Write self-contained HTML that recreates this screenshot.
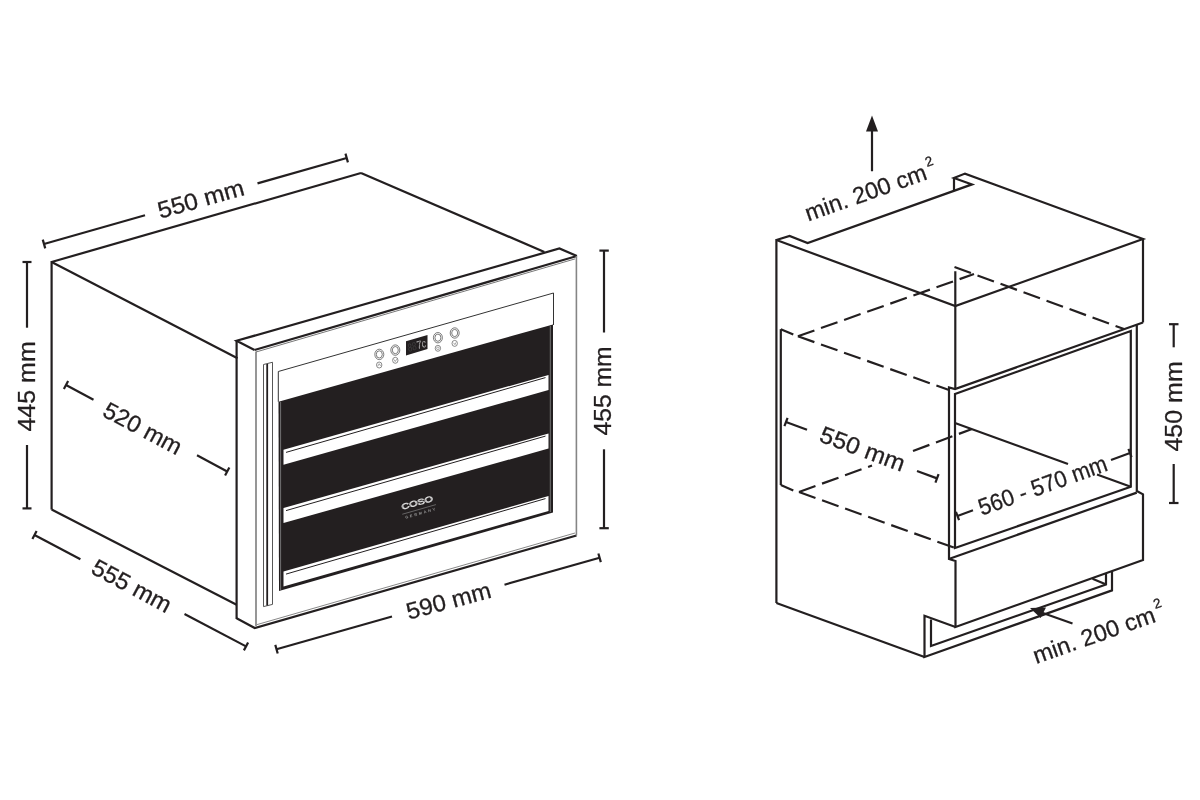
<!DOCTYPE html>
<html><head><meta charset="utf-8"><style>
html,body{margin:0;padding:0;background:#fff;width:1200px;height:800px;overflow:hidden}
svg{display:block;will-change:transform}
text{font-family:"Liberation Sans",sans-serif;fill:#231f20;stroke:#231f20;stroke-width:0.3px}
</style></head><body>
<svg width="1200" height="800" viewBox="0 0 1200 800">
<rect width="1200" height="800" fill="#fff"/>
<line x1="45.23" y1="248.33" x2="42.77" y2="239.67" stroke="#231f20" stroke-width="2.2" />
<line x1="347.93" y1="162.33" x2="345.47" y2="153.67" stroke="#231f20" stroke-width="2.2" />
<line x1="44.0" y1="244.0" x2="145.0" y2="215.3" stroke="#231f20" stroke-width="2.2" />
<line x1="257.5" y1="183.34" x2="346.7" y2="158.0" stroke="#231f20" stroke-width="2.2" />
<line x1="22.5" y1="262" x2="31.5" y2="262" stroke="#231f20" stroke-width="2.2" />
<line x1="22.5" y1="508.4" x2="31.5" y2="508.4" stroke="#231f20" stroke-width="2.2" />
<line x1="27" y1="262" x2="27" y2="327.7" stroke="#231f20" stroke-width="2.2" />
<line x1="27" y1="445" x2="27" y2="508.4" stroke="#231f20" stroke-width="2.2" />
<line x1="63.87" y1="388.97" x2="68.13" y2="381.03" stroke="#231f20" stroke-width="2.2" />
<line x1="225.07" y1="475.47" x2="229.33" y2="467.53" stroke="#231f20" stroke-width="2.2" />
<line x1="66.0" y1="385.0" x2="93.5" y2="399.76" stroke="#231f20" stroke-width="2.2" />
<line x1="197.0" y1="455.29" x2="227.2" y2="471.5" stroke="#231f20" stroke-width="2.2" />
<line x1="32.4" y1="538.98" x2="36.6" y2="531.02" stroke="#231f20" stroke-width="2.2" />
<line x1="243.9" y1="650.38" x2="248.1" y2="642.42" stroke="#231f20" stroke-width="2.2" />
<line x1="34.5" y1="535.0" x2="80.4" y2="559.18" stroke="#231f20" stroke-width="2.2" />
<line x1="184.5" y1="614.01" x2="246.0" y2="646.4" stroke="#231f20" stroke-width="2.2" />
<line x1="277.72" y1="653.53" x2="275.28" y2="644.87" stroke="#231f20" stroke-width="2.2" />
<line x1="600.82" y1="562.13" x2="598.38" y2="553.47" stroke="#231f20" stroke-width="2.2" />
<line x1="276.5" y1="649.2" x2="392.0" y2="616.53" stroke="#231f20" stroke-width="2.2" />
<line x1="504.5" y1="584.7" x2="599.6" y2="557.8" stroke="#231f20" stroke-width="2.2" />
<line x1="599.4" y1="250.6" x2="608.8" y2="250.6" stroke="#231f20" stroke-width="2.2" />
<line x1="599.4" y1="528.2" x2="608.8" y2="528.2" stroke="#231f20" stroke-width="2.2" />
<line x1="604" y1="250.6" x2="604" y2="332.5" stroke="#231f20" stroke-width="2.2" />
<line x1="604" y1="449.3" x2="604" y2="528.2" stroke="#231f20" stroke-width="2.2" />
<line x1="51.6" y1="262" x2="361" y2="173" stroke="#231f20" stroke-width="2.2" />
<line x1="361" y1="173" x2="544.4" y2="252" stroke="#231f20" stroke-width="2.2" />
<line x1="51.6" y1="262" x2="237.5" y2="358.3" stroke="#231f20" stroke-width="2.2" />
<line x1="51.6" y1="261" x2="51.6" y2="509.6" stroke="#231f20" stroke-width="2.2" />
<line x1="51.6" y1="509.6" x2="236.6" y2="604.75" stroke="#231f20" stroke-width="2.2" />
<polyline points="254.5,350 236.6,340.8 559.4,248.5 576.9,256" fill="none" stroke="#231f20" stroke-width="2.2" stroke-linejoin="miter" stroke-miterlimit="3" />
<line x1="236.6" y1="340" x2="236.6" y2="619" stroke="#231f20" stroke-width="2.2" />
<polyline points="236.6,618.25 254.75,628 576.5,535.5" fill="none" stroke="#231f20" stroke-width="2.2" stroke-linejoin="miter" stroke-miterlimit="3" />
<line x1="254.5" y1="350" x2="576.9" y2="256" stroke="#231f20" stroke-width="2.2" />
<line x1="256" y1="352" x2="575" y2="258.9" stroke="#777" stroke-width="1" />
<line x1="256" y1="351.5" x2="256" y2="626" stroke="#6a6a6a" stroke-width="1.4" />
<line x1="257" y1="624.6" x2="575" y2="533" stroke="#888" stroke-width="1" />
<line x1="576.4" y1="256" x2="576.4" y2="535.5" stroke="#858585" stroke-width="1.6" />
<polygon points="263.5,364.5 272.5,362.25 272.5,604.4 263.5,606.6" fill="none" stroke="#444" stroke-width="0.9" stroke-linejoin="miter" stroke-miterlimit="3" />
<line x1="267.2" y1="364" x2="267.2" y2="605.5" stroke="#231f20" stroke-width="1.8" />
<polyline points="278.3,401.8 278.3,371.5 553.5,293 553.5,325" fill="none" stroke="#333" stroke-width="1" stroke-linejoin="miter" stroke-miterlimit="3" />
<polygon points="278.5,401.8 553,324.4 553,512.5 279,591" fill="#231f20"/>
<line x1="280.6" y1="402" x2="280.6" y2="590" stroke="#888" stroke-width="0.8" />
<line x1="550.3" y1="326" x2="550.3" y2="512" stroke="#888" stroke-width="0.8" />
<polygon points="283.5,449.8 548.5,375 548.5,390 283.5,464.8" fill="#fff"/>
<line x1="286" y1="452.40000000000003" x2="545.5" y2="377.6" stroke="#231f20" stroke-width="1" />
<polygon points="283.5,508 548.5,433.5 548.5,448.5 283.5,523" fill="#fff"/>
<line x1="286" y1="510.6" x2="545.5" y2="436.1" stroke="#231f20" stroke-width="1" />
<polygon points="283.5,571.5 548.5,496 548.5,511 283.5,586.5" fill="#fff"/>
<line x1="286" y1="574.1" x2="545.5" y2="498.6" stroke="#231f20" stroke-width="1" />
<ellipse cx="379.3" cy="354.4" rx="4.5" ry="5.2" fill="none" stroke="#5a5a5a" stroke-width="0.8"/>
<ellipse cx="379.3" cy="354.4" rx="3.0" ry="3.6" fill="none" stroke="#5a5a5a" stroke-width="0.8"/>
<ellipse cx="379.2" cy="365" rx="2.7" ry="3.0" fill="none" stroke="#666" stroke-width="0.75"/>
<path d="M377.8,366.1 L379.2,363.7 L380.59999999999997,365.9" fill="none" stroke="#666" stroke-width="0.6"/>
<ellipse cx="395.3" cy="350.1" rx="4.5" ry="5.2" fill="none" stroke="#5a5a5a" stroke-width="0.8"/>
<ellipse cx="395.3" cy="350.1" rx="3.0" ry="3.6" fill="none" stroke="#5a5a5a" stroke-width="0.8"/>
<ellipse cx="395.3" cy="360.3" rx="2.7" ry="3.0" fill="none" stroke="#666" stroke-width="0.75"/>
<path d="M393.90000000000003,359.40000000000003 L395.3,361.5 L396.7,359.2" fill="none" stroke="#666" stroke-width="0.6"/>
<ellipse cx="437.9" cy="337.7" rx="4.5" ry="5.2" fill="none" stroke="#5a5a5a" stroke-width="0.8"/>
<ellipse cx="437.9" cy="337.7" rx="3.0" ry="3.6" fill="none" stroke="#5a5a5a" stroke-width="0.8"/>
<ellipse cx="437.9" cy="348.3" rx="2.7" ry="3.0" fill="none" stroke="#666" stroke-width="0.75"/>
<circle cx="437.9" cy="348.3" r="1.3" fill="none" stroke="#777" stroke-width="0.6"/>
<ellipse cx="454.7" cy="333" rx="4.5" ry="5.2" fill="none" stroke="#5a5a5a" stroke-width="0.8"/>
<ellipse cx="454.7" cy="333" rx="3.0" ry="3.6" fill="none" stroke="#5a5a5a" stroke-width="0.8"/>
<ellipse cx="454.7" cy="343.4" rx="2.7" ry="3.0" fill="none" stroke="#666" stroke-width="0.75"/>
<path d="M453.5,342.79999999999995 L454.9,344.59999999999997 L455.9,342.5" fill="none" stroke="#666" stroke-width="0.6"/>
<polygon points="406,341.2 427.5,335 427.5,349 406,355.5" fill="#231f20"/>
<g transform="translate(416.8,345.3) rotate(-16)"><g transform="skewX(-6)"><text x="-9.5" y="4.2" font-size="11.5" textLength="9" lengthAdjust="spacingAndGlyphs" style="fill:#4a4a4a" text-anchor="start">88</text><text x="0" y="4.2" font-size="11.5" textLength="9.5" lengthAdjust="spacingAndGlyphs" style="fill:#f4f4f4" text-anchor="start">7c</text></g></g>
<g transform="translate(417.9,505.3) rotate(-16)"><text x="0" y="0" font-size="7.8" textLength="32.5" lengthAdjust="spacingAndGlyphs" text-anchor="middle" style="fill:none;stroke:#dcdcdc;stroke-width:0.6">COSO</text><line x1="-17.5" y1="4.3" x2="17.5" y2="4.3" stroke="#8a8a8a" stroke-width="0.6"/><text x="0" y="9.6" font-size="3.8" textLength="31" lengthAdjust="spacing" text-anchor="middle" style="fill:#9a9a9a;stroke:none" font-weight="bold">GERMANY</text></g>
<polygon points="776.4,240 789.6,236 807.6,243 972,184.4 954,178 965,173.6 1143,239 955.3,306 776.4,240" fill="none" stroke="#231f20" stroke-width="2.2" stroke-linejoin="miter" stroke-miterlimit="3" />
<line x1="954" y1="178" x2="954" y2="190.8" stroke="#231f20" stroke-width="2.2" />
<line x1="776.4" y1="239" x2="776.4" y2="603" stroke="#231f20" stroke-width="2.2" />
<line x1="1143" y1="238" x2="1143" y2="322.5" stroke="#231f20" stroke-width="2.2" />
<line x1="955.3" y1="271.25" x2="955.3" y2="389" stroke="#231f20" stroke-width="2.2" />
<polyline points="1143,322.5 955,389 949,387.5 949,559 955.5,561 955.5,627 1143,560 1143,494.3 1136.8,491 1136.8,324.7" fill="none" stroke="#231f20" stroke-width="2.2" stroke-linejoin="miter" stroke-miterlimit="3" />
<polygon points="1130.8,331 955,394 955,548 1130.8,486.8 1130.8,331" fill="none" stroke="#231f20" stroke-width="2.2" stroke-linejoin="miter" stroke-miterlimit="3" />
<line x1="1136.8" y1="492.6" x2="949.5" y2="558.75" stroke="#231f20" stroke-width="2.2" />
<polyline points="955.5,627 924.5,615.75 924.5,657 1112,590.4 1112,571" fill="none" stroke="#231f20" stroke-width="2.2" stroke-linejoin="miter" stroke-miterlimit="3" />
<polyline points="931,619.5 931,646 1106,584.5 1106,573.5" fill="none" stroke="#231f20" stroke-width="2.2" stroke-linejoin="miter" stroke-miterlimit="3" />
<line x1="1092.5" y1="578.8" x2="1105" y2="584" stroke="#231f20" stroke-width="2.2" />
<line x1="776.4" y1="603" x2="924.5" y2="657" stroke="#231f20" stroke-width="2.2" />
<line x1="780.8" y1="329.2" x2="780.8" y2="485" stroke="#231f20" stroke-width="2.2" />
<line x1="955" y1="423" x2="1068" y2="464" stroke="#231f20" stroke-width="2.2" />
<line x1="1097" y1="474.5" x2="1130.8" y2="486.8" stroke="#231f20" stroke-width="2.2" />
<line x1="954.5" y1="267" x2="1124" y2="329" stroke="#231f20" stroke-width="2.2" stroke-dasharray="17.5 7"/>
<line x1="797.9" y1="336.25" x2="974" y2="274" stroke="#231f20" stroke-width="2.2" stroke-dasharray="17.5 7"/>
<line x1="797.9" y1="336.25" x2="949" y2="390" stroke="#231f20" stroke-width="2.2" stroke-dasharray="17.5 7"/>
<line x1="780.8" y1="329.2" x2="793.3" y2="334.6" stroke="#231f20" stroke-width="2.2" />
<line x1="799" y1="492" x2="872" y2="465.5" stroke="#231f20" stroke-width="2.2" stroke-dasharray="17.5 7"/>
<line x1="913" y1="451" x2="972" y2="429" stroke="#231f20" stroke-width="2.2" stroke-dasharray="17.5 7"/>
<line x1="799" y1="492" x2="955" y2="548" stroke="#231f20" stroke-width="2.2" stroke-dasharray="17.5 7"/>
<line x1="780.8" y1="485" x2="793.3" y2="490.4" stroke="#231f20" stroke-width="2.2" />
<line x1="784.43" y1="426.22" x2="787.57" y2="417.78" stroke="#231f20" stroke-width="2.2" />
<line x1="935.43" y1="482.62" x2="938.57" y2="474.18" stroke="#231f20" stroke-width="2.2" />
<line x1="786.0" y1="422.0" x2="807.0" y2="429.84" stroke="#231f20" stroke-width="2.2" />
<line x1="917.0" y1="470.93" x2="937.0" y2="478.4" stroke="#231f20" stroke-width="2.2" />
<line x1="959.04" y1="520.23" x2="955.96" y2="511.77" stroke="#231f20" stroke-width="2.2" />
<line x1="1131.54" y1="457.23" x2="1128.46" y2="448.77" stroke="#231f20" stroke-width="2.2" />
<line x1="957.5" y1="516.0" x2="973.0" y2="510.34" stroke="#231f20" stroke-width="2.2" />
<line x1="1111.0" y1="459.94" x2="1130.0" y2="453.0" stroke="#231f20" stroke-width="2.2" />
<line x1="1169" y1="324.2" x2="1178.5" y2="324.2" stroke="#231f20" stroke-width="2.2" />
<line x1="1169" y1="503" x2="1178.5" y2="503" stroke="#231f20" stroke-width="2.2" />
<line x1="1173.7" y1="324.2" x2="1173.7" y2="347.3" stroke="#231f20" stroke-width="2.2" />
<line x1="1173.7" y1="464" x2="1173.7" y2="503" stroke="#231f20" stroke-width="2.2" />
<line x1="872" y1="171.25" x2="872" y2="128" stroke="#231f20" stroke-width="2.2" />
<polygon points="872,115.6 866,131.6 878,131.6" fill="#231f20"/>
<line x1="1072.5" y1="623.5" x2="1040" y2="612" stroke="#231f20" stroke-width="2.2" />
<polygon points="1030,608 1046,607.5 1040.6,618" fill="#231f20"/>
<text x="203.0" y="206.8" transform="rotate(-15.6 203.0 206.8)" text-anchor="middle" font-size="23.5" textLength="88.7" lengthAdjust="spacingAndGlyphs" >550 mm</text>
<text x="35.1" y="386.4" transform="rotate(-90 35.1 386.4)" text-anchor="middle" font-size="23.5" textLength="90.3" lengthAdjust="spacingAndGlyphs" >445 mm</text>
<text x="139.0" y="435.4" transform="rotate(27.9 139.0 435.4)" text-anchor="middle" font-size="23.5" textLength="85.5" lengthAdjust="spacingAndGlyphs" >520 mm</text>
<text x="128.0" y="592.9" transform="rotate(28.2 128.0 592.9)" text-anchor="middle" font-size="23.5" textLength="86.8" lengthAdjust="spacingAndGlyphs" >555 mm</text>
<text x="450.75" y="608.5" transform="rotate(-15 450.75 608.5)" text-anchor="middle" font-size="23.5" textLength="86.7" lengthAdjust="spacingAndGlyphs" >590 mm</text>
<text x="611.3" y="390.9" transform="rotate(-90 611.3 390.9)" text-anchor="middle" font-size="23.5" textLength="89.2" lengthAdjust="spacingAndGlyphs" >455 mm</text>
<text x="859.8" y="456.4" transform="rotate(20.3 859.8 456.4)" text-anchor="middle" font-size="23.5" textLength="89.1" lengthAdjust="spacingAndGlyphs" >550 mm</text>
<text x="1181.7" y="406.4" transform="rotate(-90 1181.7 406.4)" text-anchor="middle" font-size="23.5" textLength="90.3" lengthAdjust="spacingAndGlyphs" >450 mm</text>
<text x="1045.4" y="493.0" transform="rotate(-19.75 1045.4 493.0)" text-anchor="middle" font-size="23.5" textLength="135.3" lengthAdjust="spacingAndGlyphs" >560 - 570 mm</text>
<text x="868.3" y="200.3" transform="rotate(-19.5 868.3 200.3)" text-anchor="middle" font-size="23.5" textLength="127.6" lengthAdjust="spacingAndGlyphs" >min. 200 cm</text>
<text x="1096.7" y="642.7" transform="rotate(-19.4 1096.7 642.7)" text-anchor="middle" font-size="23.5" textLength="128" lengthAdjust="spacingAndGlyphs" >min. 200 cm</text>
<text x="930.6" y="165.8" transform="rotate(-19.5 930.6 165.8)" text-anchor="middle" font-size="13.5"  >2</text>
<text x="1158.9" y="607.8" transform="rotate(-19.4 1158.9 607.8)" text-anchor="middle" font-size="13.5"  >2</text>
</svg></body></html>
